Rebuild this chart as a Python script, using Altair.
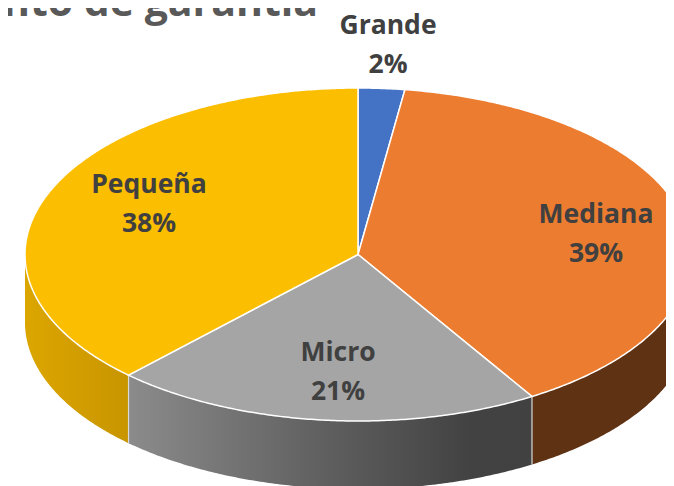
import math
import altair as alt
import pandas as pd

# ---- chart values ----
categories = ["Grande", "Mediana", "Micro", "Pequeña"]
values = [2.25, 39.0, 20.85, 37.9]
percent_labels = ["2%", "39%", "21%", "38%"]
title_text = "Monto de garantía"

# ---- styles / layout ----
top_colors = ["#4472C4", "#EC7C30", "#A5A5A5", "#FBBE00"]
CX, CY, RX, RY, DEPTH = 358, 254.5, 333, 166.5, 68
W, H = 658, 478
x_scale = alt.Scale(domain=[8, 666], range=[0, W], nice=False, zero=False)
y_scale = alt.Scale(domain=[8, 486], range=[0, H], nice=False, zero=False)
label_anchor = {"Grande": (388, 26), "Mediana": (596, 215), "Micro": (338, 353), "Pequeña": (149, 185)}
LINE_GAP = 38.5


def stops(*pairs):
    return alt.Gradient(
        gradient="linear", x1=0, x2=1, y1=0, y2=0,
        stops=[alt.GradientStop(offset=o, color=c) for o, c in pairs],
    )


wall_fill = {
    "Mediana": "#5F3214",
    "Micro": stops((0, "#8B8B8B"), (0.5, "#5E5E5E"), (0.85, "#424242"), (1, "#414141")),
    "Pequeña": stops((0, "#DCA600"), (1, "#C89500")),
}


def pt(deg):
    a = math.radians(deg)
    return CX + RX * math.sin(a), CY - RY * math.cos(a)


def poly(points):
    return pd.DataFrame([{"x": p[0], "y": p[1], "o": i} for i, p in enumerate(points)])


def shape(df, **mark):
    return alt.Chart(df).mark_line(clip=True, interpolate="linear", **mark).encode(
        x=alt.X("x:Q", scale=x_scale, axis=None),
        y=alt.Y("y:Q", scale=y_scale, axis=None),
        order="o:Q",
    )


# slice boundaries in degrees, clockwise from the top
total = sum(values)
edges = [0.0]
for v in values:
    edges.append(edges[-1] + 360.0 * v / total)

layers = []
rules = []
# side walls (front half of the pie only)
for i, cat in enumerate(categories):
    a0, a1 = max(edges[i], 90), min(edges[i + 1], 270)
    if a1 <= a0:
        continue
    n = max(int(a1 - a0) * 2, 2)
    arc = [pt(a0 + (a1 - a0) * k / n) for k in range(n + 1)]
    outline = arc + [(x, y + DEPTH) for x, y in reversed(arc)] + [arc[0]]
    layers.append(shape(poly(outline), fill=wall_fill[cat], stroke="#ffffff", strokeOpacity=0, strokeWidth=0))
    if 90 < edges[i] < 270:
        x, y = pt(edges[i])
        rules.append({"x": x, "y": y, "y2": y + DEPTH})

rule_layer = alt.Chart(pd.DataFrame(rules)).mark_rule(color="#D9D9D9", strokeWidth=1.2, clip=True).encode(
    x=alt.X("x:Q", scale=x_scale, axis=None),
    y=alt.Y("y:Q", scale=y_scale, axis=None),
    y2="y2:Q",
)
layers.append(rule_layer)

# top faces
for i, cat in enumerate(categories):
    a0, a1 = edges[i], edges[i + 1]
    n = max(int(a1 - a0) * 2, 2)
    arc = [pt(a0 + (a1 - a0) * k / n) for k in range(n + 1)]
    outline = [(CX, CY)] + arc + [(CX, CY)]
    layers.append(shape(poly(outline), fill=top_colors[i], stroke="#ffffff", strokeWidth=1.5))

# data labels
rows = []
for cat, pct in zip(categories, percent_labels):
    ax, ay = label_anchor[cat]
    rows.append({"x": ax, "y": ay, "t": cat})
    rows.append({"x": ax, "y": ay + LINE_GAP, "t": pct})
labels = alt.Chart(pd.DataFrame(rows)).mark_text(
    font="Open Sans", fontWeight="bold", fontSize=26.5, align="center", baseline="middle", color="#404040"
).encode(
    x=alt.X("x:Q", scale=x_scale, axis=None),
    y=alt.Y("y:Q", scale=y_scale, axis=None),
    text="t:N",
)
layers.append(labels)

# chart title, cut by the top and left edges of the picture
title = alt.Chart(pd.DataFrame({"x": [318], "y": [16], "t": [title_text]})).mark_text(
    font="Open Sans", fontWeight="bold", fontSize=41, align="right", baseline="alphabetic", color="#595959"
).encode(
    x=alt.X("x:Q", scale=x_scale, axis=None),
    y=alt.Y("y:Q", scale=y_scale, axis=None),
    text="t:N",
)
layers.append(title)

chart = alt.layer(*layers).properties(
    width=W, height=H, padding=0, autosize=alt.AutoSizeParams(type="none")
).configure_view(stroke=None)

chart.save("out.html", embed_options={"renderer": "svg", "actions": False})
